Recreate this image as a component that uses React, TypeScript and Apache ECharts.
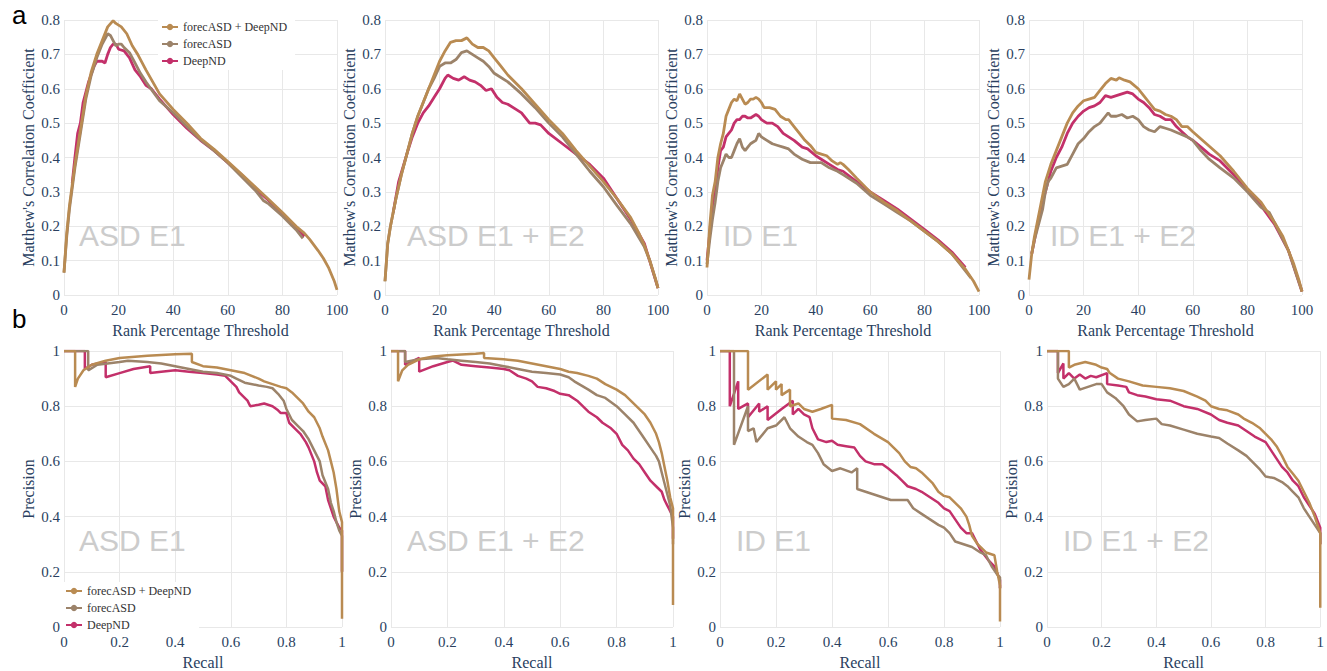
import React, { useEffect, useRef } from "react";
import * as echarts from "echarts";

// ---------- series names & colours ----------
const NAMES = ["forecASD + DeepND", "forecASD", "DeepND"];
const COLORS = ["#B98B52", "#9C836A", "#C3306A"];

// ---------- panel labels ----------
const PANEL_TITLES = ["ASD E1", "ASD E1 + E2", "ID E1", "ID E1 + E2"];

// ---------- a: MCC vs rank percentage threshold ----------
const asdE1_mcc_combo = [[0,0.065],[1,0.18],[2,0.26],[4,0.38],[6,0.48],[8,0.58],[10,0.65],[12,0.7],[14,0.74],[16,0.78],[18,0.798],[19,0.79],[21,0.78],[23,0.76],[25,0.725],[27,0.7],[30,0.655],[35,0.585],[40,0.54],[45,0.5],[50,0.456],[55,0.424],[60,0.388],[65,0.352],[70,0.315],[75,0.278],[80,0.24],[85,0.2],[88,0.18],[90,0.162],[93,0.13],[95,0.107],[97,0.078],[99,0.04],[100,0.015]];
const asdE1_mcc_forec = [[0,0.065],[1,0.17],[2,0.25],[4,0.37],[6,0.47],[8,0.57],[10,0.64],[12,0.69],[14,0.73],[16,0.76],[17,0.755],[18,0.74],[19,0.725],[20,0.73],[21,0.73],[22,0.72],[24,0.705],[26,0.675],[28,0.645],[30,0.62],[35,0.565],[40,0.53],[45,0.49],[50,0.452],[55,0.42],[60,0.385],[65,0.345],[70,0.305],[73,0.275],[75,0.265],[80,0.23],[85,0.19],[87.5,0.165]];
const asdE1_mcc_deep = [[3,0.325],[4,0.4],[5,0.47],[6,0.5],[7,0.56],[9,0.62],[11,0.665],[12,0.68],[14,0.68],[15,0.675],[16,0.7],[17,0.72],[18,0.73],[19,0.73],[20,0.715],[22,0.71],[24,0.69],[26,0.655],[28,0.635],[30,0.61],[32,0.6],[35,0.57],[40,0.525],[45,0.485],[50,0.45],[55,0.42],[60,0.385],[65,0.35],[70,0.31],[75,0.275],[80,0.235],[85,0.195],[88,0.17]];

const asdE12_mcc_combo = [[0,0.04],[1,0.15],[2,0.2],[4,0.28],[6,0.35],[8,0.41],[10,0.47],[12,0.52],[14,0.56],[16,0.6],[18,0.64],[20,0.68],[22,0.71],[24,0.735],[26,0.74],[28,0.74],[30,0.748],[32,0.73],[34,0.72],[36,0.72],[38,0.71],[40,0.69],[42,0.67],[45,0.64],[50,0.6],[55,0.555],[60,0.51],[65,0.47],[70,0.42],[75,0.375],[80,0.33],[85,0.28],[90,0.225],[93,0.18],[95,0.145],[97,0.1],[99,0.05],[100,0.02]];
const asdE12_mcc_forec = [[0,0.04],[1,0.15],[2,0.2],[4,0.28],[6,0.35],[8,0.41],[10,0.47],[12,0.52],[14,0.56],[16,0.6],[18,0.63],[20,0.665],[22,0.675],[24,0.675],[26,0.685],[28,0.705],[30,0.71],[32,0.7],[34,0.69],[36,0.68],[38,0.665],[40,0.645],[45,0.62],[50,0.585],[55,0.545],[60,0.5],[65,0.46],[70,0.41],[75,0.36],[80,0.315],[85,0.26],[90,0.207],[95,0.14],[97,0.1],[100,0.02]];
const asdE12_mcc_deep = [[3,0.24],[5,0.33],[8,0.41],[10,0.46],[12,0.5],[14,0.53],[16,0.55],[18,0.575],[20,0.6],[22,0.63],[23,0.64],[25,0.63],[27,0.625],[29,0.635],[31,0.625],[33,0.62],[35,0.61],[37,0.595],[39,0.6],[41,0.575],[43,0.56],[45,0.555],[48,0.54],[50,0.53],[53,0.5],[55,0.5],[57,0.495],[60,0.47],[65,0.44],[70,0.41],[75,0.38],[80,0.34],[85,0.28],[90,0.22],[95,0.15],[100,0.02]];

const idE1_mcc_combo = [[0,0.08],[1,0.2],[2,0.29],[3,0.33],[4,0.4],[5,0.44],[6,0.47],[7,0.52],[8,0.54],[9,0.56],[10,0.57],[11,0.565],[12,0.585],[13,0.57],[14,0.555],[15,0.56],[16,0.57],[17,0.57],[18,0.575],[19,0.57],[20,0.56],[21,0.545],[23,0.545],[25,0.54],[27,0.52],[29,0.51],[30,0.51],[32,0.49],[34,0.47],[36,0.45],[38,0.435],[40,0.415],[42,0.41],[44,0.405],[46,0.39],[48,0.38],[49,0.385],[50,0.38],[52,0.365],[55,0.34],[60,0.3],[65,0.27],[70,0.245],[75,0.215],[80,0.185],[85,0.155],[90,0.12],[95,0.075],[98,0.04],[100,0.01]];
const idE1_mcc_forec = [[0,0.09],[1,0.16],[2,0.22],[3,0.27],[4,0.33],[5,0.37],[6,0.39],[7,0.41],[8,0.4],[9,0.4],[10,0.42],[11,0.44],[12,0.455],[13,0.43],[14,0.42],[15,0.43],[16,0.44],[17,0.445],[18,0.45],[19,0.47],[20,0.46],[22,0.45],[24,0.44],[26,0.435],[28,0.43],[30,0.425],[32,0.41],[35,0.395],[38,0.385],[40,0.385],[42,0.385],[45,0.37],[48,0.36],[50,0.35],[55,0.325],[60,0.29],[65,0.265],[70,0.24],[75,0.215],[80,0.185],[85,0.155],[90,0.12],[95,0.07],[97,0.05]];
const idE1_mcc_deep = [[0,0.1],[1,0.18],[2,0.26],[3,0.3],[4,0.37],[5,0.42],[6,0.43],[7,0.46],[8,0.47],[9,0.48],[10,0.5],[11,0.51],[12,0.51],[13,0.52],[14,0.52],[15,0.515],[16,0.515],[17,0.52],[18,0.525],[19,0.52],[20,0.51],[22,0.5],[24,0.5],[26,0.49],[28,0.47],[30,0.46],[32,0.45],[35,0.43],[37,0.425],[40,0.405],[42,0.395],[45,0.38],[48,0.365],[50,0.36],[55,0.33],[60,0.3],[65,0.275],[70,0.25],[75,0.22],[80,0.19],[85,0.16],[90,0.125],[95,0.08]];

const idE12_mcc_combo = [[0,0.045],[1,0.12],[2,0.17],[3,0.21],[4,0.25],[5,0.29],[6,0.33],[8,0.38],[10,0.42],[12,0.46],[14,0.5],[16,0.53],[18,0.55],[20,0.565],[22,0.57],[24,0.575],[26,0.595],[28,0.615],[30,0.63],[32,0.625],[33,0.632],[35,0.625],[37,0.62],[40,0.6],[42,0.58],[44,0.56],[46,0.54],[48,0.535],[50,0.525],[52,0.52],[54,0.51],[56,0.49],[58,0.49],[60,0.475],[65,0.44],[70,0.405],[75,0.36],[80,0.31],[85,0.27],[90,0.21],[93,0.17],[95,0.13],[97,0.09],[99,0.04],[100,0.01]];
const idE12_mcc_forec = [[1,0.12],[2,0.16],[3,0.19],[4,0.22],[5,0.25],[6,0.3],[7,0.33],[8,0.34],[10,0.37],[12,0.375],[14,0.38],[16,0.41],[18,0.44],[20,0.455],[22,0.475],[24,0.49],[26,0.5],[28,0.52],[29,0.53],[30,0.52],[32,0.52],[34,0.525],[36,0.515],[38,0.52],[40,0.51],[42,0.49],[44,0.48],[46,0.475],[48,0.49],[50,0.485],[52,0.48],[55,0.47],[58,0.46],[60,0.45],[63,0.42],[66,0.395],[70,0.37],[75,0.34],[80,0.3],[85,0.255],[88,0.24],[90,0.21],[95,0.13],[100,0.01]];
const idE12_mcc_deep = [[1,0.12],[2,0.16],[3,0.2],[4,0.24],[5,0.27],[6,0.3],[8,0.36],[10,0.4],[12,0.43],[14,0.47],[16,0.5],[18,0.52],[20,0.535],[22,0.545],[24,0.55],[26,0.56],[28,0.58],[30,0.575],[32,0.58],[34,0.585],[36,0.59],[38,0.585],[40,0.57],[42,0.56],[44,0.545],[46,0.525],[48,0.52],[50,0.51],[52,0.51],[54,0.49],[56,0.475],[58,0.46],[60,0.45],[63,0.43],[66,0.41],[70,0.39],[75,0.35],[80,0.305],[85,0.26],[90,0.205],[95,0.13],[100,0.01]];

// ---------- b: precision vs recall ----------
const asdE1_pr_combo = [[0,1],[0.04,1],[0.04,0.87],[0.05,0.9],[0.07,0.93],[0.1,0.95],[0.15,0.965],[0.2,0.975],[0.3,0.983],[0.4,0.988],[0.46,0.99],[0.46,0.96],[0.5,0.945],[0.55,0.94],[0.6,0.93],[0.65,0.92],[0.7,0.9],[0.72,0.89],[0.75,0.88],[0.78,0.87],[0.8,0.865],[0.82,0.85],[0.84,0.83],[0.86,0.81],[0.88,0.78],[0.9,0.76],[0.92,0.72],[0.93,0.69],[0.95,0.64],[0.96,0.6],[0.97,0.56],[0.98,0.5],[0.99,0.42],[1,0.38],[1,0.03]];
const asdE1_pr_forec = [[0,1],[0.087,1],[0.087,0.93],[0.12,0.95],[0.2,0.96],[0.23,0.965],[0.3,0.96],[0.35,0.955],[0.4,0.945],[0.45,0.935],[0.5,0.925],[0.55,0.92],[0.6,0.91],[0.62,0.9],[0.65,0.885],[0.7,0.875],[0.73,0.87],[0.75,0.865],[0.77,0.845],[0.79,0.82],[0.8,0.79],[0.82,0.75],[0.84,0.73],[0.86,0.71],[0.88,0.68],[0.9,0.64],[0.92,0.6],[0.93,0.55],[0.95,0.5],[0.96,0.45],[0.97,0.42],[0.98,0.38],[0.99,0.35],[1,0.33],[1,0.2]];
const asdE1_pr_deep = [[0,1],[0.075,1],[0.075,0.935],[0.1,0.95],[0.15,0.96],[0.15,0.905],[0.2,0.92],[0.25,0.935],[0.31,0.945],[0.31,0.92],[0.35,0.925],[0.4,0.93],[0.45,0.925],[0.5,0.92],[0.55,0.915],[0.58,0.91],[0.6,0.89],[0.62,0.87],[0.63,0.85],[0.65,0.83],[0.66,0.82],[0.67,0.8],[0.7,0.805],[0.72,0.81],[0.75,0.8],[0.77,0.785],[0.78,0.775],[0.8,0.775],[0.81,0.74],[0.83,0.72],[0.85,0.7],[0.87,0.67],[0.88,0.65],[0.9,0.6],[0.91,0.56],[0.92,0.53],[0.94,0.51],[0.95,0.46],[0.96,0.43],[0.97,0.4],[0.98,0.38],[0.99,0.36],[1,0.35],[1,0.2]];

const asdE12_pr_combo = [[0,1],[0.025,1],[0.025,0.89],[0.04,0.93],[0.06,0.95],[0.1,0.97],[0.15,0.98],[0.2,0.985],[0.3,0.99],[0.33,0.993],[0.33,0.975],[0.4,0.97],[0.45,0.965],[0.5,0.955],[0.55,0.945],[0.6,0.935],[0.63,0.925],[0.66,0.92],[0.7,0.91],[0.73,0.9],[0.76,0.88],[0.8,0.86],[0.83,0.84],[0.85,0.82],[0.87,0.8],[0.9,0.77],[0.92,0.74],[0.94,0.7],[0.95,0.67],[0.96,0.63],[0.97,0.58],[0.98,0.53],[0.99,0.47],[1,0.43],[1,0.08]];
const asdE12_pr_forec = [[0,1],[0.05,1],[0.05,0.96],[0.1,0.97],[0.16,0.975],[0.2,0.97],[0.25,0.965],[0.3,0.96],[0.35,0.955],[0.4,0.945],[0.45,0.935],[0.5,0.925],[0.55,0.92],[0.6,0.915],[0.63,0.905],[0.65,0.89],[0.7,0.86],[0.73,0.84],[0.76,0.83],[0.8,0.8],[0.83,0.77],[0.86,0.74],[0.88,0.71],[0.9,0.68],[0.92,0.65],[0.94,0.62],[0.95,0.6],[0.96,0.56],[0.97,0.52],[0.98,0.48],[0.99,0.44],[1,0.36],[1,0.3]];
const asdE12_pr_deep = [[0,1],[0.05,1],[0.05,0.95],[0.1,0.975],[0.1,0.925],[0.15,0.945],[0.2,0.96],[0.22,0.965],[0.25,0.95],[0.3,0.945],[0.35,0.94],[0.4,0.935],[0.42,0.93],[0.45,0.91],[0.48,0.9],[0.5,0.89],[0.52,0.87],[0.55,0.865],[0.58,0.855],[0.6,0.845],[0.63,0.84],[0.66,0.82],[0.68,0.8],[0.7,0.78],[0.73,0.76],[0.75,0.74],[0.78,0.72],[0.8,0.7],[0.82,0.66],[0.84,0.64],[0.86,0.61],[0.88,0.59],[0.9,0.56],[0.92,0.53],[0.94,0.51],[0.96,0.49],[0.97,0.46],[0.98,0.44],[0.99,0.42],[1,0.4],[1,0.32]];

const idE1_pr_combo = [[0,1],[0.1,1],[0.1,0.86],[0.17,0.915],[0.17,0.86],[0.2,0.89],[0.2,0.86],[0.22,0.88],[0.22,0.84],[0.25,0.86],[0.25,0.8],[0.28,0.81],[0.3,0.79],[0.33,0.78],[0.36,0.79],[0.4,0.805],[0.4,0.755],[0.45,0.75],[0.5,0.735],[0.55,0.7],[0.6,0.67],[0.62,0.65],[0.64,0.63],[0.66,0.6],[0.68,0.58],[0.7,0.575],[0.72,0.56],[0.74,0.54],[0.76,0.52],[0.78,0.49],[0.8,0.475],[0.82,0.47],[0.84,0.45],[0.86,0.43],[0.88,0.4],[0.89,0.37],[0.9,0.33],[0.92,0.3],[0.95,0.27],[0.98,0.26],[0.99,0.2],[1,0.15],[1,0.02]];
const idE1_pr_forec = [[0,1],[0.05,1],[0.05,0.66],[0.1,0.8],[0.1,0.71],[0.12,0.72],[0.13,0.67],[0.17,0.72],[0.2,0.73],[0.23,0.76],[0.25,0.72],[0.28,0.69],[0.31,0.67],[0.33,0.66],[0.35,0.63],[0.37,0.59],[0.4,0.565],[0.43,0.575],[0.47,0.56],[0.49,0.575],[0.49,0.5],[0.52,0.49],[0.55,0.48],[0.58,0.47],[0.61,0.46],[0.64,0.46],[0.67,0.46],[0.69,0.43],[0.72,0.41],[0.75,0.39],[0.78,0.37],[0.8,0.36],[0.82,0.34],[0.84,0.31],[0.87,0.3],[0.9,0.29],[0.93,0.27],[0.95,0.26],[0.97,0.22],[0.99,0.19],[1,0.18],[1,0.14]];
const idE1_pr_deep = [[0,1],[0.035,1],[0.035,0.8],[0.065,0.89],[0.065,0.79],[0.1,0.81],[0.1,0.76],[0.14,0.81],[0.14,0.78],[0.17,0.8],[0.17,0.75],[0.22,0.79],[0.26,0.82],[0.26,0.77],[0.28,0.79],[0.3,0.77],[0.32,0.76],[0.33,0.72],[0.35,0.68],[0.38,0.67],[0.4,0.675],[0.42,0.66],[0.45,0.655],[0.48,0.65],[0.5,0.62],[0.52,0.6],[0.55,0.59],[0.58,0.59],[0.6,0.575],[0.63,0.55],[0.65,0.53],[0.67,0.51],[0.7,0.5],[0.72,0.49],[0.75,0.47],[0.78,0.45],[0.8,0.43],[0.82,0.42],[0.84,0.39],[0.86,0.36],[0.88,0.34],[0.9,0.34],[0.93,0.28],[0.96,0.24],[0.98,0.22],[1,0.17],[1,0.14]];

const idE12_pr_combo = [[0,1],[0.08,1],[0.08,0.94],[0.1,0.95],[0.14,0.96],[0.18,0.95],[0.2,0.94],[0.22,0.935],[0.23,0.92],[0.26,0.9],[0.3,0.89],[0.35,0.875],[0.4,0.87],[0.45,0.865],[0.5,0.855],[0.55,0.835],[0.58,0.82],[0.6,0.8],[0.63,0.79],[0.66,0.785],[0.7,0.77],[0.72,0.755],[0.75,0.74],[0.78,0.72],[0.8,0.7],[0.82,0.68],[0.84,0.655],[0.86,0.62],[0.88,0.58],[0.9,0.555],[0.92,0.53],[0.94,0.49],[0.96,0.45],[0.98,0.4],[1,0.34],[1,0.07]];
const idE12_pr_forec = [[0,1],[0.04,1],[0.04,0.9],[0.06,0.87],[0.08,0.88],[0.1,0.9],[0.12,0.86],[0.15,0.87],[0.18,0.88],[0.2,0.88],[0.22,0.85],[0.25,0.83],[0.28,0.8],[0.3,0.77],[0.33,0.745],[0.36,0.75],[0.4,0.755],[0.42,0.735],[0.45,0.73],[0.5,0.715],[0.55,0.7],[0.6,0.69],[0.63,0.685],[0.66,0.665],[0.7,0.64],[0.73,0.62],[0.76,0.59],[0.78,0.57],[0.8,0.545],[0.83,0.54],[0.86,0.525],[0.88,0.51],[0.9,0.49],[0.92,0.47],[0.94,0.43],[0.96,0.4],[0.98,0.37],[1,0.34],[1,0.3]];
const idE12_pr_deep = [[0,1],[0.04,1],[0.04,0.92],[0.06,0.955],[0.06,0.9],[0.08,0.92],[0.1,0.9],[0.12,0.915],[0.14,0.9],[0.16,0.91],[0.18,0.905],[0.22,0.92],[0.22,0.88],[0.26,0.875],[0.29,0.87],[0.3,0.85],[0.33,0.84],[0.36,0.835],[0.4,0.825],[0.45,0.82],[0.5,0.8],[0.55,0.79],[0.6,0.77],[0.63,0.75],[0.66,0.74],[0.7,0.73],[0.73,0.71],[0.76,0.69],[0.8,0.67],[0.82,0.64],[0.84,0.61],[0.86,0.58],[0.88,0.56],[0.9,0.53],[0.92,0.51],[0.94,0.47],[0.96,0.44],[0.98,0.41],[1,0.36],[1,0.3]];

const MCC_PANELS = [
  [asdE1_mcc_combo, asdE1_mcc_forec, asdE1_mcc_deep],
  [asdE12_mcc_combo, asdE12_mcc_forec, asdE12_mcc_deep],
  [idE1_mcc_combo, idE1_mcc_forec, idE1_mcc_deep],
  [idE12_mcc_combo, idE12_mcc_forec, idE12_mcc_deep],
];
const PR_PANELS = [
  [asdE1_pr_combo, asdE1_pr_forec, asdE1_pr_deep],
  [asdE12_pr_combo, asdE12_pr_forec, asdE12_pr_deep],
  [idE1_pr_combo, idE1_pr_forec, idE1_pr_deep],
  [idE12_pr_combo, idE12_pr_forec, idE12_pr_deep],
];

// ---------- layout ----------
const TOP_GRIDS = [
  { left: 64, width: 273 },
  { left: 385, width: 273 },
  { left: 707, width: 272 },
  { left: 1029, width: 273 },
];
const BOTTOM_GRIDS = [
  { left: 64, width: 278 },
  { left: 391, width: 282 },
  { left: 720, width: 280 },
  { left: 1047, width: 280 },
];
const TOP_MARKS = [79, 407, 723, 1050];
const BOTTOM_MARKS = [79, 407, 736, 1063];

const SERIF = "Liberation Serif";
const SANS = "Liberation Sans";
const AXIS_COLOR = "#2a3f5f";
const GRID_COLOR = "#e8e8e8";

function buildOption() {
  const grid: any[] = [];
  const xAxis: any[] = [];
  const yAxis: any[] = [];
  const series: any[] = [];
  const graphic: any[] = [];

  const axisBase = {
    axisLine: { show: false },
    axisTick: { show: false },
    splitLine: { show: true, lineStyle: { color: GRID_COLOR, width: 1 } },
    axisLabel: { color: AXIS_COLOR, fontFamily: SERIF, fontSize: 15 },
    nameTextStyle: { color: AXIS_COLOR, fontFamily: SERIF, fontSize: 16 },
  };

  const addPanel = (
    g: { left: number; width: number },
    top: number,
    height: number,
    xMax: number,
    xInt: number,
    yMax: number,
    yInt: number,
    xName: string,
    yName: string,
    data: number[][][],
    width: number
  ) => {
    const idx = grid.length;
    grid.push({ left: g.left, width: g.width, top, height, containLabel: false });
    xAxis.push({
      ...axisBase,
      type: "value",
      gridIndex: idx,
      min: 0,
      max: xMax,
      interval: xInt,
      name: xName,
      nameLocation: "middle",
      nameGap: 27,
      axisLabel: { ...axisBase.axisLabel, margin: 7 },
    });
    yAxis.push({
      ...axisBase,
      type: "value",
      gridIndex: idx,
      min: 0,
      max: yMax,
      interval: yInt,
      name: yName,
      nameLocation: "middle",
      nameRotate: 90,
      nameGap: 28,
      axisLabel: { ...axisBase.axisLabel, margin: 4 },
    });
    // draw DeepND first, then forecASD, then combined on top
    [2, 1, 0].forEach((k) => {
      series.push({
        type: "line",
        name: NAMES[k],
        xAxisIndex: idx,
        yAxisIndex: idx,
        data: data[k],
        showSymbol: false,
        symbol: "circle",
        symbolSize: 5,
        color: COLORS[k],
        lineStyle: { color: COLORS[k], width },
        z: 3 + (2 - k),
      });
    });
  };

  TOP_GRIDS.forEach((g, i) =>
    addPanel(g, 20, 275, 100, 20, 0.8, 0.1, "Rank Percentage Threshold", "Matthew's Correlation Coefficient", MCC_PANELS[i], 2.8)
  );
  BOTTOM_GRIDS.forEach((g, i) =>
    addPanel(g, 351, 276, 1, 0.2, 1, 0.2, "Recall", "Precision", PR_PANELS[i], 2.5)
  );

  const markStyle = { fill: "#cccccc", fontSize: 30, fontFamily: SANS };
  TOP_MARKS.forEach((x, i) =>
    graphic.push({ type: "text", left: x, top: 220, z: 1, style: { ...markStyle, text: PANEL_TITLES[i] } })
  );
  BOTTOM_MARKS.forEach((x, i) =>
    graphic.push({ type: "text", left: x, top: 525, z: 1, style: { ...markStyle, text: PANEL_TITLES[i] } })
  );
  graphic.push({ type: "text", left: 12, top: 2, style: { text: "a", fill: "#000", fontSize: 26, fontFamily: SANS } });
  graphic.push({ type: "text", left: 12, top: 306, style: { text: "b", fill: "#000", fontSize: 26, fontFamily: SANS } });

  const legendBase = {
    orient: "vertical",
    data: NAMES,
    itemWidth: 16,
    itemHeight: 8,
    itemGap: 5,
    backgroundColor: "#ffffff",
    padding: [3, 8, 3, 3],
    textStyle: { fontFamily: SERIF, fontSize: 12, color: "#333" },
  };

  return {
    animation: false,
    backgroundColor: "#ffffff",
    textStyle: { fontFamily: SERIF },
    grid,
    xAxis,
    yAxis,
    series,
    graphic,
    legend: [
      { ...legendBase, left: 158, top: 18 },
      { ...legendBase, left: 62, top: 582 },
    ],
  };
}

export default function App() {
  const ref = useRef<HTMLDivElement>(null);
  useEffect(() => {
    document.body.style.margin = "0";
    if (!ref.current) return;
    const chart = echarts.init(ref.current, undefined, { renderer: "svg" });
    chart.setOption(buildOption() as any);
    return () => chart.dispose();
  }, []);
  return <div ref={ref} style={{ width: 1327, height: 671, background: "#fff" }} />;
}
